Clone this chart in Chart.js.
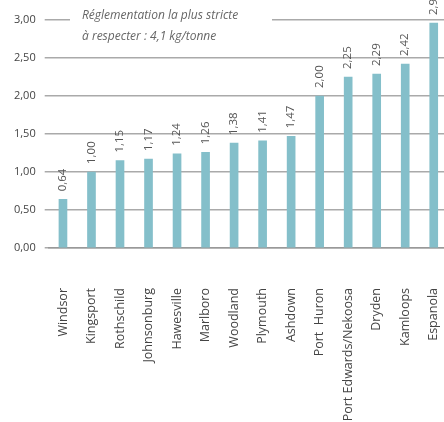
<!DOCTYPE html>
<html>
<head>
<meta charset="utf-8">
<script src="https://cdn.jsdelivr.net/npm/chart.js@4"></script>
<style>
  html, body { margin: 0; padding: 0; background: #fff; overflow: hidden; }
  #wrap { width: 448px; height: 422px; }
</style>
</head>
<body>
<div id="wrap"><canvas id="chartUsines"></canvas></div>
<script>
// Données du graphique
const usines = ["Windsor", "Kingsport", "Rothschild", "Johnsonburg", "Hawesville", "Marlboro",
  "Woodland", "Plymouth", "Ashdown", "Port  Huron", "Port Edwards/Nekoosa", "Dryden", "Kamloops", "Espanola"];
const valeurs = [0.64, 1.00, 1.15, 1.17, 1.24, 1.26, 1.38, 1.41, 1.47, 2.00, 2.25, 2.29, 2.42, 2.96];
const ticksY = [0, 0.5, 1, 1.5, 2, 2.5, 3];
const noteLignes = ["Réglementation la plus stricte", "à respecter : 4,1 kg/tonne"];

const police = "'Open Sans', 'Noto Sans', sans-serif";
const virgule = v => v.toFixed(2).replace(".", ",");

// Étiquettes de valeur verticales au-dessus des barres
const etiquettesBarres = {
  id: "etiquettesBarres",
  afterDatasetsDraw(chart) {
    const ctx = chart.ctx;
    const meta = chart.getDatasetMeta(0);
    ctx.save();
    ctx.font = "11.5px " + police;
    ctx.fillStyle = "#555";
    ctx.textAlign = "left";
    ctx.textBaseline = "middle";
    meta.data.forEach((bar, i) => {
      ctx.save();
      ctx.translate(bar.x, bar.y - 8);
      ctx.rotate(-Math.PI / 2);
      ctx.fillText(virgule(valeurs[i]), 0, 0);
      ctx.restore();
    });
    ctx.restore();
  }
};

// Note sur la ligne de 3,00 (fond blanc pour couper la ligne)
const noteReglement = {
  id: "noteReglement",
  beforeDatasetsDraw(chart) {
    const ctx = chart.ctx;
    const y = chart.scales.y.getPixelForValue(3);
    ctx.save();
    ctx.fillStyle = "#fff";
    ctx.fillRect(70, y - 6, 202, 12);
    ctx.font = "italic 12px " + police;
    ctx.fillStyle = "#666";
    ctx.textAlign = "left";
    ctx.textBaseline = "middle";
    ctx.fillText(noteLignes[0], 82, 16);
    ctx.fillText(noteLignes[1], 82, 37);
    ctx.restore();
  }
};

new Chart(document.getElementById("chartUsines"), {
  type: "bar",
  data: {
    labels: usines,
    datasets: [{
      data: valeurs,
      backgroundColor: "#84bfca",
      barThickness: 8
    }]
  },
  options: {
    responsive: true,
    maintainAspectRatio: false,
    animation: false,
    layout: { padding: { top: 20, right: 0, left: 0, bottom: 0 } },
    plugins: { legend: { display: false }, tooltip: { enabled: false } },
    scales: {
      x: {
        grid: { display: false, drawTicks: false },
        border: { color: "#999", width: 1.5 },
        ticks: {
          autoSkip: false,
          minRotation: 90,
          maxRotation: 90,
          padding: 40,
          color: "#444",
          font: { family: police, size: 12.5 }
        },
        afterFit(scale) {
          scale.height = 174;
          scale.paddingLeft = 0;
          scale.paddingRight = 0;
        }
      },
      y: {
        min: 0,
        max: 3,
        afterBuildTicks(scale) { scale.ticks = ticksY.map(v => ({ value: v })); },
        afterFit(scale) { scale.width = 48.7; },
        border: { display: false },
        grid: { color: "#aaa", lineWidth: 1.5, tickLength: 4 },
        ticks: {
          padding: 9,
          color: "#444",
          font: { family: police, size: 11 },
          callback: v => virgule(v)
        }
      }
    }
  },
  plugins: [noteReglement, etiquettesBarres]
});
</script>
</body>
</html>
